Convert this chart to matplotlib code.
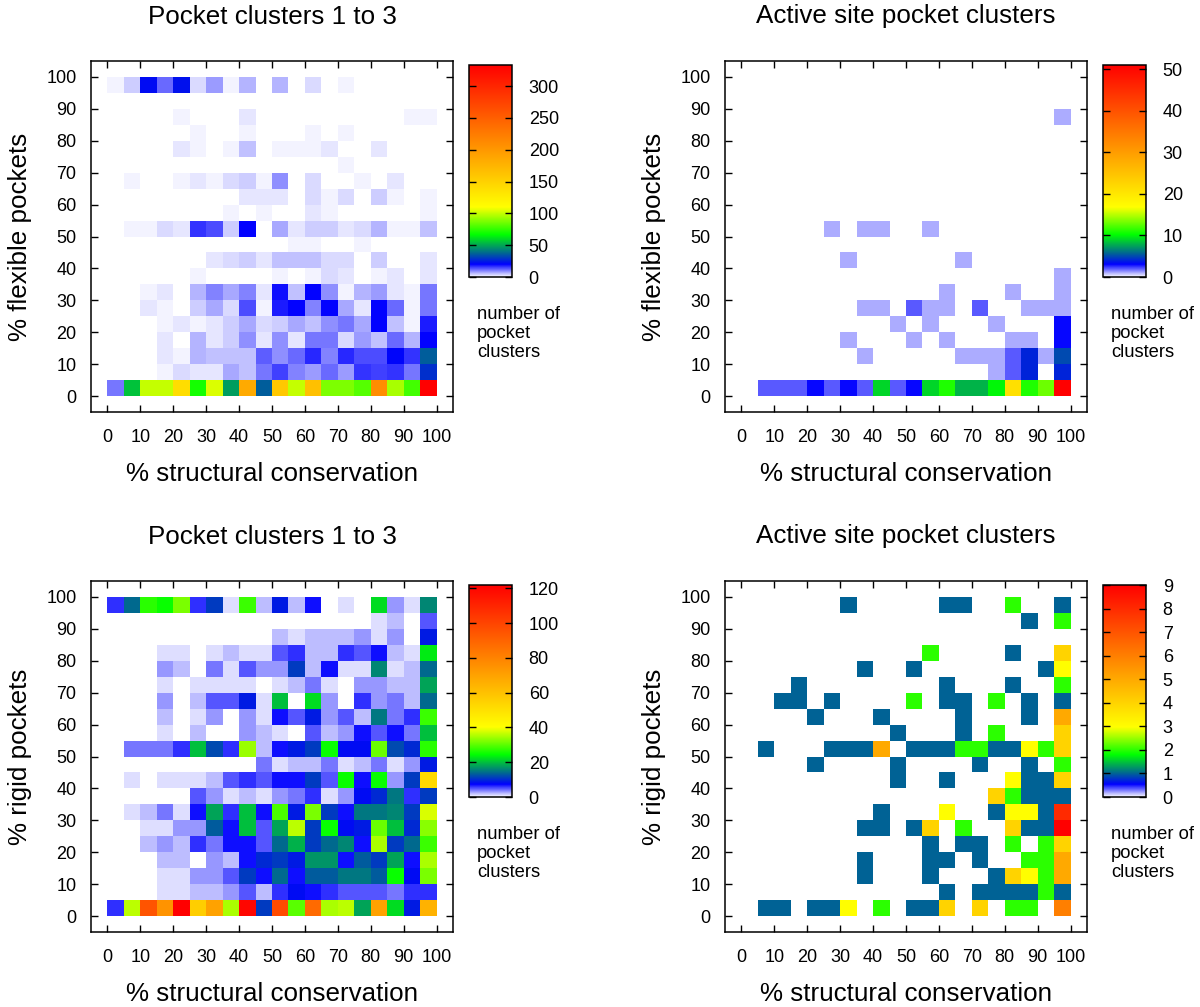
import numpy as np
import matplotlib
matplotlib.use("Agg")
import matplotlib.pyplot as plt
from matplotlib.colors import LinearSegmentedColormap, Normalize
from matplotlib.cm import ScalarMappable

plt.rcParams['font.family'] = ['Liberation Sans', 'DejaVu Sans']

W, H = 1200, 1007

bin_edges = list(range(0, 105, 5))
tick_values = list(range(0, 110, 10))
title_clusters = "Pocket clusters 1 to 3"
title_active = "Active site pocket clusters"
xlabel = "% structural conservation"
ylabel_flex = "% flexible pockets"
ylabel_rigid = "% rigid pockets"
note = "number of\npocket\nclusters"

# rows listed from the top (95-100 %) to the bottom (0-5 %)
flex_clusters = [
 [1,4,22,12,23,3,8,1,6,0,6,0,3,0,1,0,0,0,0,0],
 [0,0,0,0,0,0,0,0,0,0,0,0,0,0,0,0,0,0,0,0],
 [0,0,0,0,1,0,0,0,2,0,0,0,0,0,0,0,0,0,1,1],
 [0,0,0,0,0,1,0,0,1,0,0,0,1,0,1,0,0,0,0,0],
 [0,0,0,0,2,1,0,1,5,0,1,1,1,2,0,0,2,0,0,0],
 [0,0,0,0,0,0,0,0,0,0,0,0,0,0,1,0,0,0,0,0],
 [0,1,0,0,1,2,1,3,4,1,9,0,3,0,0,1,0,2,0,0],
 [0,0,0,0,0,0,0,0,2,2,2,0,3,1,3,0,4,1,0,1],
 [0,0,0,0,0,0,0,1,0,1,0,0,2,1,0,0,0,0,0,1],
 [0,1,1,3,2,16,14,4,20,0,7,2,4,4,2,3,6,1,1,5],
 [0,0,0,0,0,0,0,0,0,0,0,1,1,0,0,1,0,0,0,0],
 [0,0,0,0,0,0,2,3,4,2,5,5,5,3,3,0,4,0,0,2],
 [0,0,0,0,0,1,0,0,0,0,1,0,1,3,2,0,1,2,0,2],
 [0,0,1,2,0,6,10,7,10,2,19,5,20,9,1,6,8,2,1,11],
 [0,0,2,1,0,4,7,3,14,1,18,20,10,20,7,2,20,12,1,11],
 [0,0,0,1,2,1,2,4,7,3,4,7,5,9,11,7,20,5,1,18],
 [0,0,0,2,0,6,2,4,9,2,9,2,11,11,3,8,5,12,6,20],
 [0,0,0,2,1,6,5,5,5,13,9,12,17,10,17,14,14,21,16,36],
 [0,0,0,1,3,2,2,7,5,11,15,10,8,12,8,16,15,16,11,28],
 [11,55,100,100,140,70,104,48,184,36,158,100,165,88,88,81,210,95,78,333],
]

flex_active = [
 [0]*20, [0]*20,
 [0,0,0,0,0,0,0,0,0,0,0,0,0,0,0,0,0,0,0,1],
 [0]*20, [0]*20, [0]*20, [0]*20, [0]*20, [0]*20,
 [0,0,0,0,0,1,0,1,1,0,0,1,0,0,0,0,0,0,0,0],
 [0]*20,
 [0,0,0,0,0,0,1,0,0,0,0,0,0,1,0,0,0,0,0,0],
 [0,0,0,0,0,0,0,0,0,0,0,0,0,0,0,0,0,0,0,1],
 [0,0,0,0,0,0,0,0,0,0,0,0,1,0,0,0,1,0,0,1],
 [0,0,0,0,0,0,0,1,1,0,2,1,1,0,2,0,0,1,1,1],
 [0,0,0,0,0,0,0,0,0,1,0,1,0,0,0,1,0,0,0,3],
 [0,0,0,0,0,0,1,0,0,0,1,0,1,0,0,0,1,1,0,3],
 [0,0,0,0,0,0,0,1,0,0,0,0,0,1,1,1,2,4,1,5],
 [0,0,0,0,0,0,0,0,0,0,0,0,0,0,0,1,2,4,0,4],
 [0,2,2,2,3,2,3,2,9,2,3,9,11,8,8,10,21,11,13,51],
]

rigid_clusters = [
 [6,14,27,25,32,6,11,1,28,2,9,2,7,0,1,0,22,3,1,16],
 [0,0,0,0,0,0,0,0,0,0,0,0,0,0,0,0,1,2,0,5],
 [0,0,0,0,0,0,0,0,0,0,2,1,2,2,2,3,1,3,0,9],
 [0,0,0,1,1,0,1,2,1,1,5,6,2,2,6,5,7,2,1,23],
 [0,0,0,3,2,0,4,1,5,3,3,11,2,7,1,1,16,1,2,14],
 [0,0,0,1,0,1,1,1,1,0,1,2,4,1,0,3,3,2,2,18],
 [0,0,0,3,0,2,5,5,9,1,20,0,22,3,0,6,3,4,2,14],
 [0,0,0,2,0,1,3,0,3,1,7,5,9,3,5,2,15,4,6,28],
 [0,0,0,1,0,2,0,0,3,2,1,0,5,2,3,7,5,7,4,20],
 [0,4,4,4,6,20,12,6,34,2,7,9,11,25,8,8,31,12,10,27],
 [0,0,0,0,0,0,0,0,0,4,1,2,2,4,1,2,4,1,3,9],
 [0,1,0,1,1,1,2,5,6,5,7,7,11,5,25,7,25,3,11,52],
 [0,0,0,0,0,5,3,1,2,1,3,4,6,1,3,8,10,15,6,11],
 [0,1,2,4,1,7,18,6,20,7,29,9,32,11,7,15,15,16,11,38],
 [0,0,1,1,3,3,13,7,20,5,18,36,11,25,8,9,31,20,10,33],
 [0,0,2,3,2,6,4,7,7,5,14,19,11,14,16,7,35,11,14,28],
 [0,0,0,2,2,0,3,2,7,10,11,9,17,17,7,13,11,18,7,35],
 [0,0,0,1,1,3,3,5,11,7,14,7,13,13,15,15,13,25,8,32],
 [0,0,0,1,1,2,2,3,5,2,6,8,7,6,5,5,5,4,6,6],
 [6,36,95,75,122,56,70,35,120,11,98,30,88,35,36,18,70,22,9,65],
]

rigid_active = [
 [0,0,0,0,0,0,1,0,0,0,0,0,1,1,0,0,2,0,0,1],
 [0,0,0,0,0,0,0,0,0,0,0,0,0,0,0,0,0,1,0,2],
 [0]*20,
 [0,0,0,0,0,0,0,0,0,0,0,2,0,0,0,0,1,0,0,4],
 [0,0,0,0,0,0,0,1,0,0,1,0,0,0,0,0,0,0,1,3],
 [0,0,0,1,0,0,0,0,0,0,0,0,1,0,0,0,1,0,0,2],
 [0,0,1,1,0,1,0,0,0,0,2,0,1,1,0,2,0,1,0,1],
 [0,0,0,0,1,0,0,0,1,0,0,0,0,1,0,0,0,1,0,5],
 [0,0,0,0,0,0,0,0,0,1,0,0,0,1,0,2,0,0,0,4],
 [0,1,0,0,0,1,1,1,5,0,1,1,1,2,2,1,1,3,2,4],
 [0,0,0,0,1,0,0,0,0,1,0,0,0,0,1,0,0,1,0,2],
 [0,0,0,0,0,0,0,0,0,1,0,0,1,0,0,0,3,1,1,4],
 [0,0,0,0,0,0,0,0,0,0,0,0,0,0,0,4,2,1,1,1],
 [0,0,0,0,0,0,0,0,1,0,0,0,3,0,0,1,3,3,1,8],
 [0,0,0,0,0,0,0,1,1,0,1,4,0,2,0,0,4,1,1,9],
 [0,0,0,0,0,0,0,0,0,0,0,1,0,1,1,0,2,0,2,4],
 [0,0,0,0,0,0,0,1,0,0,0,1,1,0,1,0,0,2,2,5],
 [0,0,0,0,0,0,0,1,0,0,0,1,0,0,0,1,4,3,2,5],
 [0,0,0,0,0,0,0,0,0,0,0,0,1,0,1,1,1,1,2,1],
 [0,1,1,0,1,1,3,0,2,0,1,1,4,0,4,0,2,2,0,6],
]

flex_clusters_max, flex_active_max, rigid_clusters_max, rigid_active_max = 333, 51, 122, 9
cbar_ticks_1 = [0, 50, 100, 150, 200, 250, 300]
cbar_ticks_2 = [0, 10, 20, 30, 40, 50]
cbar_ticks_3 = [0, 20, 40, 60, 80, 100, 120]
cbar_ticks_4 = [0, 1, 2, 3, 4, 5, 6, 7, 8, 9]

cmap = LinearSegmentedColormap.from_list("pockets", [
    (0.00, (1, 1, 1)), (0.06, (0, 0, 1)), (0.111, (0, 0.39, 0.58)), (0.20, (0, 1, 0)),
    (0.33, (1, 1, 0)), (1.00, (1, 0, 0))], N=1024)

fig = plt.figure(figsize=(W / 100, H / 100), dpi=100)

def px_axes(x0, y0, x1, y1):
    return fig.add_axes([x0 / W, 1 - y1 / H, (x1 - x0) / W, (y1 - y0) / H])

TICK, TS, LS = 5, 13, 18.7

def panel(left, top, rows, vmax, title, ylabel, cticks):
    right, bottom = left + 362, top + 351
    ax = px_axes(left, top, right, bottom)
    norm = Normalize(0, vmax)
    ax.pcolormesh(bin_edges, bin_edges, np.array(rows[::-1], float), cmap=cmap, norm=norm)
    ax.set_xlim(-5, 105)
    ax.set_ylim(-5, 105)
    ax.set_xticks(tick_values)
    ax.set_yticks(tick_values)
    ax.tick_params(direction='in', top=True, right=True, length=TICK, width=1,
                   labelsize=TS)
    ax.tick_params(axis='x', pad=12)
    ax.tick_params(axis='y', pad=10.5)
    ax.set_title(title, fontsize=LS, pad=27)
    ax.set_xlabel(xlabel, fontsize=LS, labelpad=12)
    ax.set_ylabel(ylabel, fontsize=LS, labelpad=10)
    for s in ax.spines.values():
        s.set_linewidth(1.1)
    cax = px_axes(right + 16, top + 4, right + 59, top + 216)
    cb = fig.colorbar(ScalarMappable(norm=norm, cmap=cmap), cax=cax)
    cb.set_ticks(cticks)
    cax.tick_params(axis='y', direction='in', left=True, right=True, length=TICK,
                    width=1, labelsize=TS, pad=12)
    cb.outline.set_linewidth(1.1)
    fig.text((right + 24) / W, 1 - (top + 245) / H, note, fontsize=13.2,
             va='top', ha='left', linespacing=1.15)

panel(91, 61, flex_clusters, flex_clusters_max, title_clusters, ylabel_flex, cbar_ticks_1)
panel(725, 61, flex_active, flex_active_max, title_active, ylabel_flex, cbar_ticks_2)
panel(91, 581, rigid_clusters, rigid_clusters_max, title_clusters, ylabel_rigid, cbar_ticks_3)
panel(725, 581, rigid_active, rigid_active_max, title_active, ylabel_rigid, cbar_ticks_4)

fig.savefig("out.png", dpi=100)
